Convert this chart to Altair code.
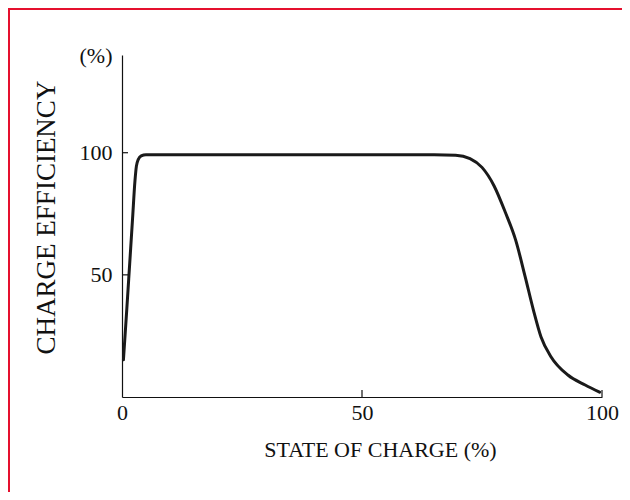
import altair as alt
import pandas as pd

# Curve
soc = [0.3, 1.0, 1.6, 2.2, 2.7, 3.0, 3.4, 4.0, 5.0, 6.5, 10, 30, 50, 65, 69.5, 72.5,
       75.0, 77.5, 79.9, 82.0, 84.0, 85.7, 87.3, 89.4, 92.9, 96.5, 99.5]
eff = [15.2, 36.0, 54.5, 73.0, 88.5, 94.5, 97.3, 98.7, 99.2, 99.2, 99.2, 99.2, 99.2,
       99.2, 99.0, 97.6, 94.0, 86.5, 75.4, 64.3, 49.2, 35.7, 24.6, 16.4, 9.0, 4.9, 2.0]

y_ticks = [50, 100]
x_ticks = [50, 100]
y_label_values = [50, 100, 140]
x_label_values = [0, 50, 100]

W, H = 480, 342
FONT = "Liberation Serif"

curve = pd.DataFrame({"soc": soc, "eff": eff, "i": range(len(soc))})

xs = alt.Scale(domain=[0, 100], nice=False, zero=False)
ys = alt.Scale(domain=[0, 140], nice=False, zero=False)

line = alt.Chart(curve).mark_line(
    color="#1a1a1a", strokeWidth=3, interpolate="monotone", strokeCap="round"
).encode(
    x=alt.X("soc:Q", scale=xs, axis=alt.Axis(
        title="STATE OF CHARGE (%)", values=x_label_values, ticks=False, tickSize=0,
        grid=False, domainColor="#111", domainWidth=1.2, labelFont=FONT,
        labelFontSize=22, labelColor="#111", labelPadding=5, labelFlush=False,
        titleFont=FONT, titleFontSize=22, titleFontWeight="normal", titleColor="#111",
        titleX=258, titleY=52, titleBaseline="middle", titleAlign="center")),
    y=alt.Y("eff:Q", scale=ys, axis=alt.Axis(
        title="CHARGE EFFICIENCY", values=y_label_values, ticks=False, tickSize=0,
        grid=False, domainColor="#111", domainWidth=1.2, labelFont=FONT,
        labelFontSize=22, labelColor="#111", labelPadding=10, labelFlush=False,
        labelExpr="datum.value == 140 ? '(%)' : datum.label",
        titleFont=FONT, titleFontSize=27, titleFontWeight="normal", titleColor="#111",
        titleX=-76, titleY=162, titleBaseline="middle", titleAlign="center",
        titleAngle=270)),
    order="i:O",
)

ytick_rules = alt.Chart(pd.DataFrame({"v": y_ticks})).mark_rule(
    color="#111", strokeWidth=1.2
).encode(
    y=alt.Y("v:Q", scale=ys), x=alt.value(0), x2=alt.value(6)
)

xtick_rules = alt.Chart(pd.DataFrame({"v": x_ticks})).mark_rule(
    color="#111", strokeWidth=1.2
).encode(
    x=alt.X("v:Q", scale=xs), y=alt.value(H), y2=alt.value(H - 7)
)

border = alt.Chart(pd.DataFrame({"a": [0]})).mark_rect(
    filled=False, stroke="#e5102e", strokeWidth=2
).encode(
    x=alt.value(-113), x2=alt.value(800), y=alt.value(-46), y2=alt.value(800)
)

chart = alt.layer(border, line, ytick_rules, xtick_rules).properties(
    width=W, height=H,
    autosize=alt.AutoSizeParams(type="none"),
    padding={"left": 114, "top": 47, "right": 20, "bottom": 95},
    background="white",
).configure_view(stroke=None)

chart.save("out.html", embed_options={"renderer": "svg", "actions": False})
